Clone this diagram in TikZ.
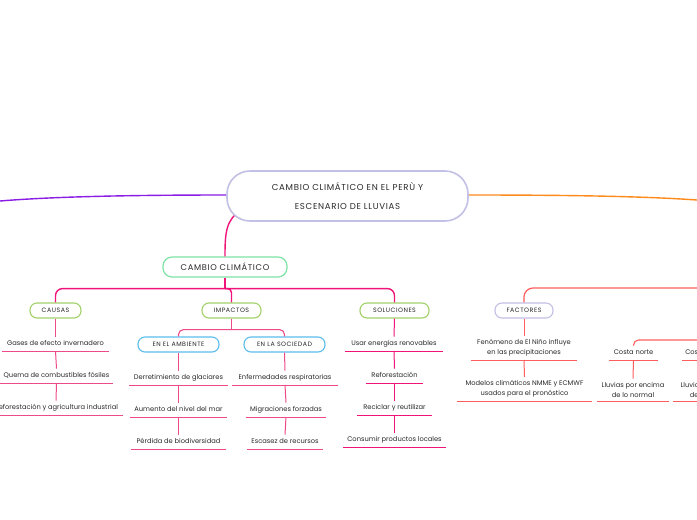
\documentclass[tikz,border=0pt]{standalone}
\usepackage{fontspec}
\setmainfont{Poppins}
\newfontfamily\capsf[LetterSpace=8]{Poppins}
\usetikzlibrary{calc}
\definecolor{txt}{HTML}{2A2A2A}
\definecolor{hotpink}{HTML}{F0147A}
\definecolor{pinkl}{HTML}{EE4A8A}
\definecolor{purp}{HTML}{8A1CE6}
\definecolor{orng}{HTML}{FF8A1C}
\definecolor{redl}{HTML}{FF5E5E}
\definecolor{lav}{HTML}{C3C0E6}
\definecolor{mint}{HTML}{80E3A6}
\definecolor{olive}{HTML}{A2D06A}
\definecolor{sky}{HTML}{5CBDEC}
\newcommand\itm[6]{%
  \node[item, minimum width=#4pt] (#1) at (#2,#3) {#5};
  \draw[#6, line width=1pt] (#1.south west) -- (#1.south east);}
\newcommand\itmm[6]{%
  \node[itemm, minimum width=#4pt] (#1) at (#2,#3) {#5};
  \draw[#6, line width=1pt] (#1.south west) -- (#1.south east);}
\begin{document}
\begin{tikzpicture}[x=1pt,y=-1pt,
  pill/.style={draw=#1, line width=1.1pt, rounded corners=7pt, fill=white, text=txt,
    inner sep=0pt, minimum height=15pt, font=\capsf\fontsize{6.3}{7}\selectfont},
  item/.style={text=txt, inner xsep=0pt, inner ysep=3.5pt, text height=5.2pt, text depth=1.8pt,
    font=\fontsize{6.7}{9.8}\selectfont, anchor=south},
  itemm/.style={text=txt, inner xsep=0pt, inner ysep=3.5pt, align=center,
    font=\fontsize{6.7}{9.8}\selectfont, anchor=south},
  main/.style={draw=hotpink, line width=1.4pt},
  conn/.style={draw=pinkl, line width=1pt},
  rconn/.style={draw=redl, line width=1pt},
]
\useasboundingbox (0,0) rectangle (697,520);
\fill[white] (0,0) rectangle (697,520);
\clip (0,0) rectangle (697,520);

% central and first-level nodes
\node[pill=mint, line width=1.2pt, minimum width=124pt, minimum height=20pt, rounded corners=9pt,
  font=\capsf\fontsize{8.3}{9}\selectfont] (cc) at (225,267) {CAMBIO CLIMÁTICO};
\coordinate (lend) at (0,201);
\coordinate (rend) at (697,200);
\coordinate (rred) at (697,288);
\coordinate (rred2) at (697,340);

\draw[main] (cc.north) .. controls (225,210) and (228,200) .. (348.5,195);
\draw[draw=purp, line width=1.4pt] (228,195) .. controls (150,195) and (60,196) .. (lend);
\draw[draw=orng, line width=1.4pt] (469,195) .. controls (560,195) and (640,196) .. (rend);

\node[draw=lav, line width=1.6pt, rounded corners=23pt, fill=white, text=txt, minimum width=241pt,
  minimum height=50pt, align=center, font=\capsf\fontsize{8.6}{19}\selectfont] (root) at (347.5,196)
  {CAMBIO CLIMÁTICO EN EL PERÙ Y\\ESCENARIO DE LLUVIAS};

\node[pill=olive, minimum width=51pt] (causas) at (55.5,310.5) {CAUSAS};
\node[pill=olive, minimum width=59pt] (imp) at (231.5,310.5) {IMPACTOS};
\node[pill=olive, minimum width=69pt] (sol) at (394.5,310.5) {SOLUCIONES};
\node[pill=sky, minimum width=81pt] (amb) at (178.5,344.5) {EN EL AMBIENTE};
\node[pill=sky, minimum width=81pt] (soc) at (284.5,344.5) {EN LA SOCIEDAD};
\node[pill=lav, minimum width=58pt] (fac) at (524,310.5) {FACTORES};

% main fork
\draw[main] (cc.south) -- ++(0,11) coordinate (mf);
\draw[main, rounded corners=7pt] (causas.north) |- (mf) -| (sol.north);
\draw[main, rounded corners=4pt] (mf) -| (imp.north);
\draw[conn, line width=1.1pt] (imp.south) -- ++(0,11) coordinate (imf);
\draw[conn, line width=1.1pt, rounded corners=5pt] (amb.north) |- (imf) -| (soc.north);

% causas
\itm{g1}{55.5}{351}{107}{Gases de efecto invernadero}{pinkl}
\itm{g2}{56.5}{383}{113}{Quema de combustibles fósiles}{pinkl}
\itm{g3}{56}{415}{134}{Deforestación y agricultura industrial}{pinkl}
\draw[conn] (causas.south) -- (g1.north);
\draw[conn] (g1.south) -- (g2.north);
\draw[conn] (g2.south) -- (g3.north);

% ambiente
\itm{a1}{178.5}{385}{99}{Derretimiento de glaciares}{pinkl}
\itm{a2}{178.5}{417}{97}{Aumento del nivel del mar}{pinkl}
\itm{a3}{178.5}{449}{95}{Pérdida de biodiversidad}{pinkl}
\draw[conn] (amb.south) -- (a1.north);
\draw[conn] (a1.south) -- (a2.north);
\draw[conn] (a2.south) -- (a3.north);

% sociedad
\itm{s1}{285}{385}{106}{Enfermedades respiratorias}{pinkl}
\itm{s2}{286}{417}{80}{Migraciones forzadas}{pinkl}
\itm{s3}{285}{449}{76}{Escasez de recursos}{pinkl}
\draw[conn] (soc.south) -- (s1.north);
\draw[conn] (s1.south) -- (s2.north);
\draw[conn] (s2.south) -- (s3.north);

% soluciones
\itm{o1}{394}{351}{98}{Usar energías renovables}{hotpink}
\itm{o2}{394.5}{383}{57}{Reforestación}{hotpink}
\itm{o3}{394.5}{415}{75}{Reciclar y reutilizar}{hotpink}
\itm{o4}{394.5}{447}{103}{Consumir productos locales}{hotpink}
\draw[main, line width=1pt] (sol.south) -- (o1.north);
\draw[main, line width=1pt] (o1.south) -- (o2.north);
\draw[main, line width=1pt] (o2.south) -- (o3.north);
\draw[main, line width=1pt] (o3.south) -- (o4.north);

% factores
\draw[draw=redl, line width=1.2pt, rounded corners=9pt] (rred) -| (fac.north);
\itmm{f1}{524}{360}{106}{Fenómeno de El Niño influye\\en las precipitaciones}{redl}
\itmm{f2}{524.5}{401}{135}{Modelos climáticos NMME y ECMWF\\usados para el pronóstico}{redl}
\draw[rconn] (fac.south) -- (f1.north);
\draw[rconn] (f1.south) -- (f2.north);

% costa
\itm{c1}{633.5}{360}{49}{Costa norte}{redl}
\itm{c2}{707}{360}{50}{Costa centro}{redl}
\draw[draw=redl, line width=1.1pt, rounded corners=5pt] (rred2) -| (c1.north);
\itmm{l1}{633}{401}{72}{Lluvias por encima\\de lo normal}{redl}
\itmm{l2}{711}{401}{76}{Lluvias por debajo\\de lo normal}{redl}
\draw[rconn] (c1.south) -- (l1.north);
\draw[rconn] (c2.south) -- (l2.north);
\end{tikzpicture}
\end{document}
